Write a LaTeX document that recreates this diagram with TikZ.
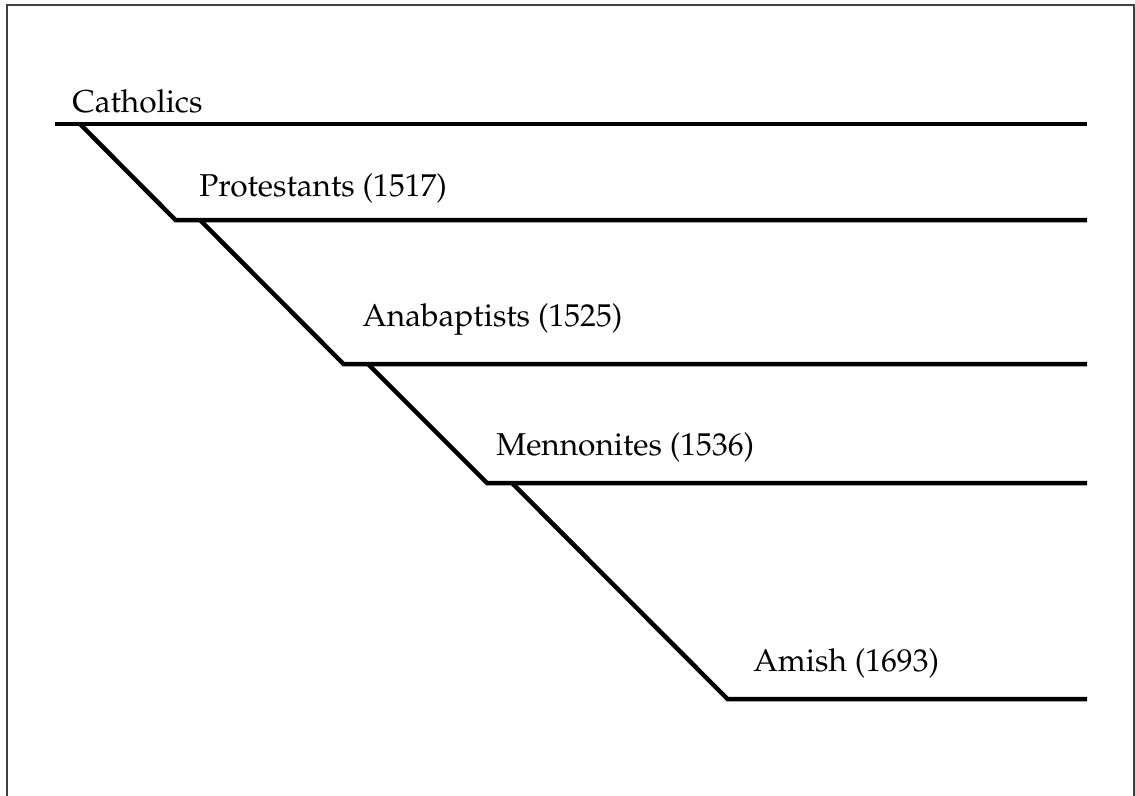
\documentclass[tikz,border=0pt]{standalone}
\usepackage[T1]{fontenc}
\usepackage{mathpazo}
\usepackage{tikz}
\usetikzlibrary{positioning}

\begin{document}
\begin{tikzpicture}[x=0.02cm, y=-0.02cm,
    branch/.style={line width=0.09cm, line join=miter, line cap=butt},
    tag/.style={anchor=base west, inner sep=0pt, font=\fontsize{18}{22}\selectfont},
    frame/.style={draw=black!75, line width=0.04cm}]

    \useasboundingbox (0,0) rectangle (1135,795);
    \draw[frame] (7,800) -- (7,4.5) -- (1133.5,4.5) -- (1133.5,800);

    % Nodes - start, fork and end of each line
    \coordinate (catholicsStart) at (55,124);
    \coordinate (catholicsFork) at (80,124);
    \coordinate (catholicsEnd) at (1087,124);
    \coordinate (protestantsStart) at (175.5,220);
    \coordinate (protestantsFork) at (200,220);
    \coordinate (protestantsEnd) at (1087,220);
    \coordinate (anabaptistsStart) at (343.5,364);
    \coordinate (anabaptistsFork) at (368,364);
    \coordinate (anabaptistsEnd) at (1087,364);
    \coordinate (mennonitesStart) at (487,483);
    \coordinate (mennonitesFork) at (512,483);
    \coordinate (mennonitesEnd) at (1087,483);
    \coordinate (amishStart) at (727.5,699);
    \coordinate (amishEnd) at (1087,699);

    % Labels
    \node[tag] (catholics) at (72,112) {Catholics};
    \node[tag] (protestants) at (199,196) {Protestants (1517)};
    \node[tag] (anabaptists) at (362,326) {Anabaptists (1525)};
    \node[tag] (mennonites) at (496,455) {Mennonites (1536)};
    \node[tag] (amish) at (753,671) {Amish (1693)};

    % Branches
    \draw[branch] (catholicsStart) -- (catholicsEnd);
    \draw[branch] (catholicsFork) -- (protestantsStart) -- (protestantsEnd);
    \draw[branch] (protestantsFork) -- (anabaptistsStart) -- (anabaptistsEnd);
    \draw[branch] (anabaptistsFork) -- (mennonitesStart) -- (mennonitesEnd);
    \draw[branch] (mennonitesFork) -- (amishStart) -- (amishEnd);

\end{tikzpicture}
\end{document}
